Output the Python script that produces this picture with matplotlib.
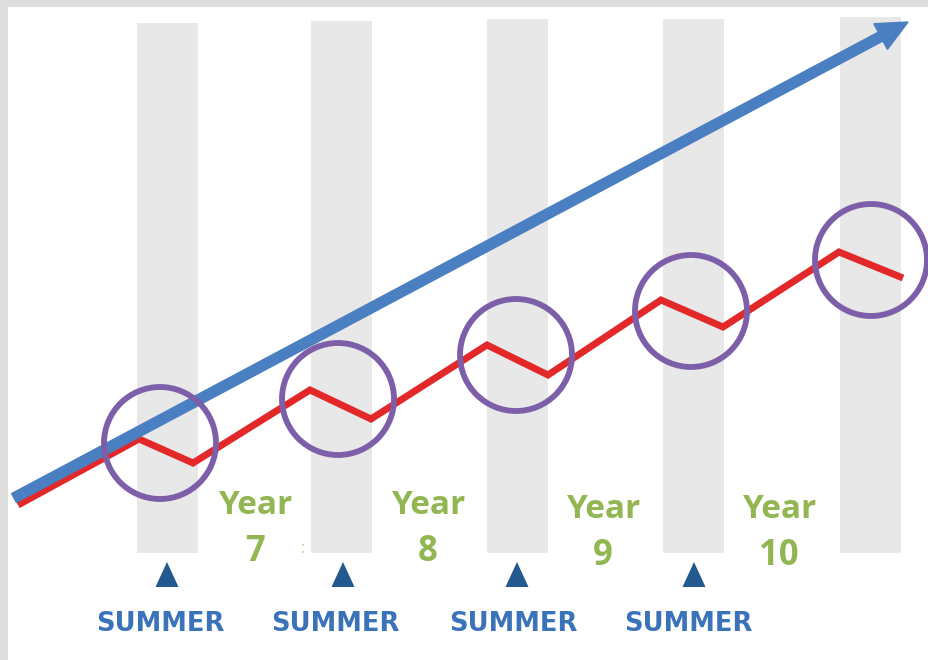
import matplotlib.pyplot as plt
from matplotlib.patches import Rectangle, Circle, FancyArrow, Polygon

# canvas units are pixels of the original slide (y grows downward)
band_left = [137, 311, 487, 663, 840]
band_top = [23, 21, 19, 19, 17]
band_width = 61
band_bottom = 553

red_x = [18, 139, 193, 310, 371, 487, 548, 661, 723, 839, 903]
red_y = [505, 439, 463, 390, 419, 345, 375, 300, 327, 252, 278]

blue_start = (14, 498)
blue_end = (908, 22)

circle_x = [160, 338, 516, 691, 871]
circle_y = [443, 399, 355, 311, 260]
circle_r = 56

year_labels = ['7', '8', '9', '10']
year_x = [255, 428, 603, 779]
year_base = [514, 514, 518, 518]

summer_x = [160, 335, 513, 688]
triangle_x = [167, 343, 517, 694]

fig = plt.figure(figsize=(9.29, 6.60), dpi=100)
fig.patch.set_facecolor('#dedede')
ax = fig.add_axes([0, 0, 1, 1])
ax.set_xlim(0, 929)
ax.set_ylim(660, 0)
ax.axis('off')

ax.add_patch(Rectangle((8, 7), 921, 653, facecolor='white', edgecolor='none', zorder=0))

# grey summer bands
for left, top in zip(band_left, band_top):
    ax.add_patch(Rectangle((left, top), band_width, band_bottom - top,
                           facecolor='#e8e8e8', edgecolor='none', zorder=1))

# red zigzag
ax.plot(red_x, red_y, color='#e3282a', linewidth=5, solid_joinstyle='miter',
        solid_capstyle='butt', zorder=3)

# blue arrow
ax.add_patch(FancyArrow(blue_start[0], blue_start[1],
                        blue_end[0] - blue_start[0], blue_end[1] - blue_start[1],
                        width=10, head_width=29, head_length=31,
                        length_includes_head=True, color='#4a7fc1',
                        edgecolor='none', zorder=4))

# purple circles
for cx, cy in zip(circle_x, circle_y):
    ax.add_patch(Circle((cx, cy), circle_r, facecolor='none', edgecolor='#7d5ea9',
                        linewidth=4.2, zorder=5))

# year labels
for lab, x, b in zip(year_labels, year_x, year_base):
    ax.text(x, b, 'Year', ha='center', va='baseline', fontsize=24,
            fontweight='bold', family='Open Sans', color='#92b752', zorder=6)
    ax.text(x, b + 47, lab, ha='center', va='baseline', fontsize=25,
            fontweight='bold', family='Open Sans', color='#92b752', zorder=6)
ax.text(303, 553, ':', ha='center', va='baseline', fontsize=12,
        color='#c9dca8', zorder=6)

# summer markers
for tx in triangle_x:
    ax.add_patch(Polygon([(tx - 11.5, 587), (tx + 11.5, 587), (tx, 562)],
                         closed=True, facecolor='#22598f', edgecolor='none', zorder=6))
for sx in summer_x:
    ax.text(sx, 631, 'SUMMER', ha='center', va='baseline', fontsize=18.5,
            fontweight='bold', family='DejaVu Sans', color='#3a73b9', zorder=6)

fig.savefig('out.png', dpi=100, facecolor=fig.get_facecolor())
